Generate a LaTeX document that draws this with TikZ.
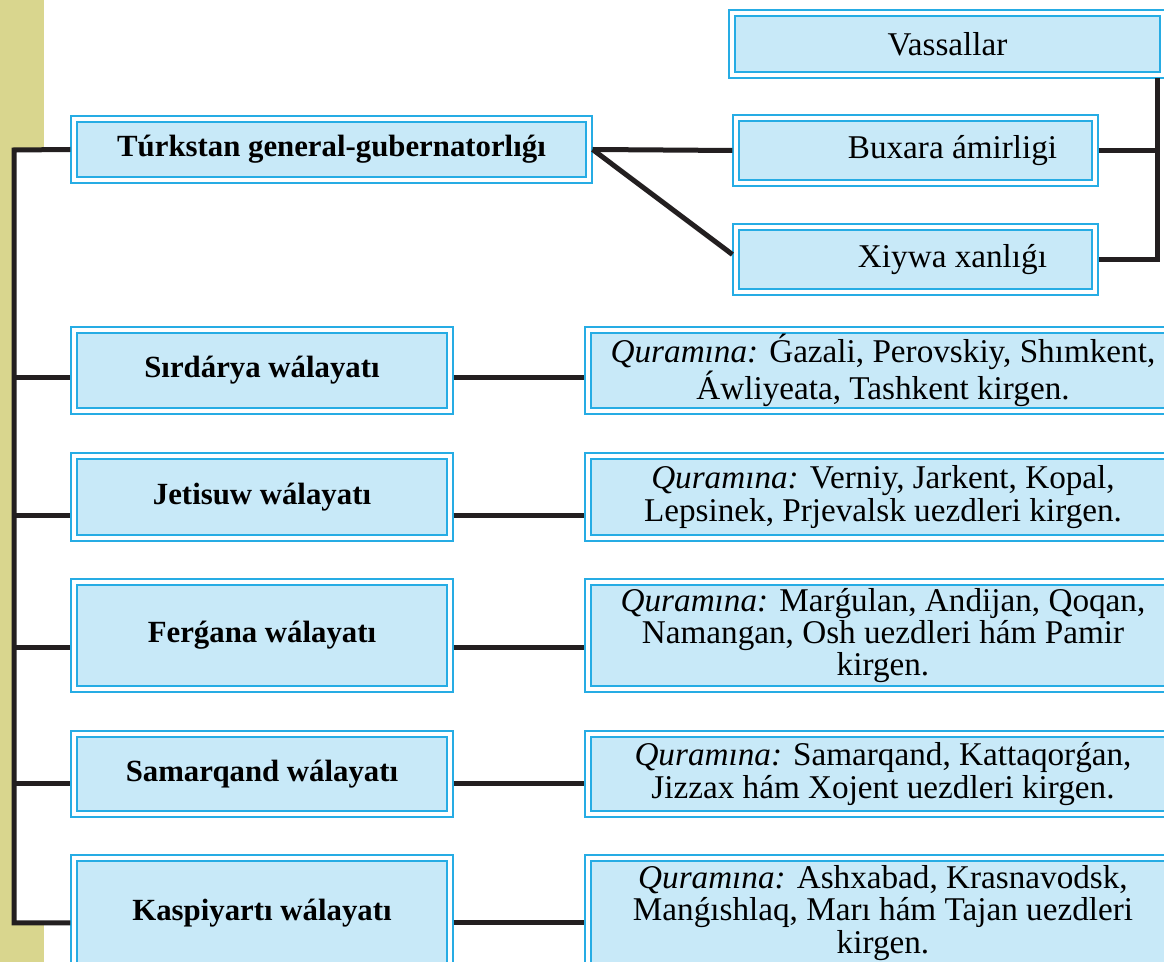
\documentclass[tikz,border=0pt]{standalone}
\usepackage{fontspec}
\setmainfont{Liberation Serif}
\usepackage{xcolor}
\usepackage{tikz}
\usetikzlibrary{calc}

\definecolor{boxline}{RGB}{38,172,228}
\definecolor{boxfill}{RGB}{200,233,248}
\definecolor{strip}{RGB}{217,214,142}
\definecolor{ink}{RGB}{35,31,32}

\tikzset{
  unit/.style={draw=boxline, line width=0.6pt, double=white, double distance=2.4pt,
    fill=boxfill, outer sep=1.8pt, inner sep=0pt, align=center},
  head/.style={unit, font=\fontsize{15.4}{17}\selectfont\bfseries},
  part/.style={unit, font=\fontsize{16.6}{16.2}\selectfont},
  link/.style={draw=ink, line width=2.5pt}
}

\begin{document}
\begin{tikzpicture}[x=0.5pt, y=-0.5pt]
  \useasboundingbox (0,0) rectangle (1164,962);
  \clip (0,0) rectangle (1164,962);
  % page strip
  \fill[strip] (0,0) rectangle (44,962);
  \fill[white] (14,150) rectangle (44,923);

  % top group
  \node[head, minimum width=257.5pt, minimum height=30.5pt] (turk) at (331.5,149.5) {Túrkstan general-gubernatorlıǵı};
  \node[part, minimum width=215.5pt, minimum height=31pt] (vass) at (947.5,44) {Vassallar};
  \node[part, minimum width=179.5pt, minimum height=32.5pt] (bux) at (915.5,150.5) {\hspace*{37pt}Buxara ámirligi};
  \node[part, minimum width=179.5pt, minimum height=32.5pt] (xiy) at (915.5,259.5) {\hspace*{37pt}Xiywa xanlıǵı};

  % provinces
  \node[head, minimum width=188pt, minimum height=40.5pt] (sir) at (262,370.5) {Sırdárya wálayatı};
  \node[head, minimum width=188pt, minimum height=41pt] (jet) at (262,497) {Jetisuw wálayatı};
  \node[head, minimum width=188pt, minimum height=53.5pt] (fer) at (262,635.5) {Ferǵana wálayatı};
  \node[head, minimum width=188pt, minimum height=40pt] (sam) at (262,774) {Samarqand wálayatı};
  \node[head, minimum width=188pt, minimum height=55pt] (kas) at (262,913) {Kaspiyartı wálayatı};

  % what each province held
  \node[part, minimum width=295pt, minimum height=40.5pt] (sirq) at (883,370.5)
    {\textit{Quramına:} Ǵazali, Perovskiy, Shımkent,\\ Áwliyeata, Tashkent kirgen.};
  \node[part, minimum width=295pt, minimum height=41pt] (jetq) at (883,497)
    {\textit{Quramına:} Verniy, Jarkent, Kopal,\\ Lepsinek, Prjevalsk uezdleri kirgen.};
  \node[part, minimum width=295pt, minimum height=53.5pt] (ferq) at (883,635.5)
    {\textit{Quramına:} Marǵulan, Andijan, Qoqan,\\ Namangan, Osh uezdleri hám Pamir\\ kirgen.};
  \node[part, minimum width=295pt, minimum height=40pt] (samq) at (883,774)
    {\textit{Quramına:} Samarqand, Kattaqorǵan,\\ Jizzax hám Xojent uezdleri kirgen.};
  \node[part, minimum width=295pt, minimum height=55pt] (kasq) at (883,913)
    {\textit{Quramına:} Ashxabad, Krasnavodsk,\\ Manǵıshlaq, Marı hám Tajan uezdleri\\ kirgen.};

  % right bracket
  \coordinate (rbar) at (1157,78);
  \draw[link] (turk.east) -- (bux.west);
  \draw[link] (turk.east) -- ([yshift=2.5pt]xiy.west);
  \draw[link] (bux.east) -- (bux.east -| rbar);
  \draw[link] (rbar) |- (xiy.east);

  % left bracket
  \coordinate (ltop) at (14,150);
  \coordinate (kasY) at ([yshift=-5pt]kas.west);
  \draw[link] (turk.west) -- (ltop) -- (ltop |- kasY) -- (kasY);
  \coordinate (sirY) at ([yshift=-3.75pt]sir.east);
  \coordinate (jetY) at ([yshift=-9.5pt]jet.east);
  \coordinate (ferY) at ([yshift=-6.25pt]fer.east);
  \coordinate (samY) at ([yshift=-5pt]sam.east);
  \draw[link] (sirY -| ltop) -- (sirY -| sir.west);
  \draw[link] (jetY -| ltop) -- (jetY -| jet.west);
  \draw[link] (ferY -| ltop) -- (ferY -| fer.west);
  \draw[link] (samY -| ltop) -- (samY -| sam.west);
  \draw[link] (sirY) -- (sirY -| sirq.west);
  \draw[link] (jetY) -- (jetY -| jetq.west);
  \draw[link] (ferY) -- (ferY -| ferq.west);
  \draw[link] (samY) -- (samY -| samq.west);
  \draw[link] (kasY -| kas.east) -- (kasY -| kasq.west);
\end{tikzpicture}
\end{document}
